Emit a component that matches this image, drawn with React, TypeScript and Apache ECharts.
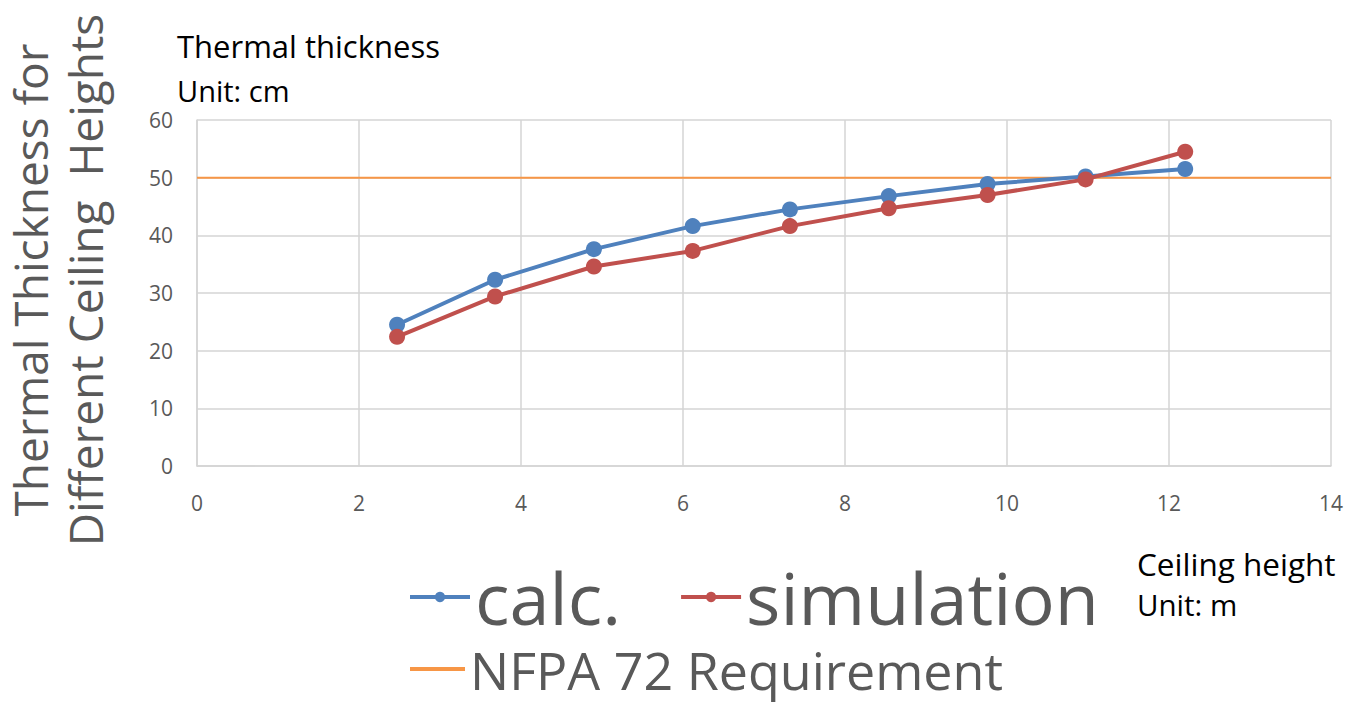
import React, { useEffect, useRef } from "react";
import * as echarts from "echarts";

const ceilingHeights = [2.47, 3.68, 4.9, 6.12, 7.32, 8.54, 9.76, 10.97, 12.2];
const calcValues = [24.5, 32.3, 37.6, 41.6, 44.5, 46.8, 48.9, 50.2, 51.5];
const simValues = [22.4, 29.4, 34.6, 37.3, 41.6, 44.7, 47.0, 49.7, 54.5];
const nfpaX = [0, 14];
const nfpaValues = [50, 50];

const BLUE = "#4F81BD";
const RED = "#C0504D";
const ORANGE = "#F79646";
const GRAY = "#595959";
const FONT = "Open Sans";

export default function App() {
  const ref = useRef<HTMLDivElement>(null);
  useEffect(() => {
    if (!ref.current) return;
    const chart = echarts.init(ref.current, undefined, { renderer: "svg" });
    const pair = (xs: number[], ys: number[]) => xs.map((x, i) => [x, ys[i]]);
    chart.setOption({
      animation: false,
      backgroundColor: "#ffffff",
      textStyle: { fontFamily: FONT },
      grid: { left: 197, right: 30, top: 120, bottom: 239, containLabel: false },
      xAxis: {
        type: "value",
        min: 0,
        max: 14,
        interval: 2,
        axisLine: { show: true, lineStyle: { color: "#d4d4d4", width: 1.5 } },
        axisTick: { show: false },
        splitLine: { show: true, lineStyle: { color: "#d4d4d4", width: 1.5 } },
        axisLabel: { color: GRAY, fontSize: 21, margin: 26, fontFamily: FONT },
      },
      yAxis: {
        type: "value",
        min: 0,
        max: 60,
        interval: 10,
        axisLine: { show: true, lineStyle: { color: "#d4d4d4", width: 1.5 } },
        axisTick: { show: false },
        splitLine: { show: true, lineStyle: { color: "#d4d4d4", width: 1.5 } },
        axisLabel: { color: GRAY, fontSize: 21, margin: 24, fontFamily: FONT },
      },
      legend: [
        {
          data: ["calc.", "simulation"],
          left: 408,
          top: 561,
          padding: 0,
          itemWidth: 60,
          itemHeight: 13,
          itemGap: 58,
          lineStyle: { width: 4 },
          textStyle: { fontSize: 72, lineHeight: 62, color: GRAY, fontFamily: FONT },
        },
        {
          data: [{ name: "NFPA 72 Requirement", icon: "rect" }],
          left: 410,
          top: 643,
          padding: 0,
          itemWidth: 55,
          itemHeight: 4,
          textStyle: { fontSize: 52, lineHeight: 50, color: GRAY, fontFamily: FONT },
        },
      ],
      graphic: [
        {
          type: "text",
          x: 57,
          y: 280,
          rotation: Math.PI / 2,
          style: {
            text: "Thermal Thickness for\nDifferent Ceiling  Heights",
            fontSize: 46,
            lineHeight: 55,
            fill: GRAY,
            fontFamily: FONT,
            align: "center",
            verticalAlign: "middle",
          },
        },
        {
          type: "text",
          x: 177,
          y: 46,
          style: { text: "Thermal thickness", fontSize: 31, fill: "#000", fontFamily: FONT, verticalAlign: "middle" },
        },
        {
          type: "text",
          x: 177,
          y: 90,
          style: { text: "Unit: cm", fontSize: 29, fill: "#000", fontFamily: FONT, verticalAlign: "middle" },
        },
        {
          type: "text",
          x: 1137,
          y: 563,
          style: { text: "Ceiling height", fontSize: 31.5, fill: "#000", fontFamily: FONT, verticalAlign: "middle" },
        },
        {
          type: "text",
          x: 1137,
          y: 604,
          style: { text: "Unit: m", fontSize: 29.5, fill: "#000", fontFamily: FONT, verticalAlign: "middle" },
        },
      ],
      series: [
        {
          name: "NFPA 72 Requirement",
          type: "line",
          data: pair(nfpaX, nfpaValues),
          showSymbol: false,
          symbol: "none",
          lineStyle: { color: ORANGE, width: 2 },
          itemStyle: { color: ORANGE },
          z: 1,
        },
        {
          name: "calc.",
          type: "line",
          data: pair(ceilingHeights, calcValues),
          symbol: "circle",
          symbolSize: 16,
          lineStyle: { color: BLUE, width: 4 },
          itemStyle: { color: BLUE },
          z: 2,
        },
        {
          name: "simulation",
          type: "line",
          data: pair(ceilingHeights, simValues),
          symbol: "circle",
          symbolSize: 16,
          lineStyle: { color: RED, width: 4 },
          itemStyle: { color: RED },
          z: 3,
        },
      ],
    });
    return () => chart.dispose();
  }, []);
  return (
    <div
      ref={ref}
      style={{ position: "absolute", left: 0, top: 0, width: 1361, height: 705 }}
    />
  );
}
